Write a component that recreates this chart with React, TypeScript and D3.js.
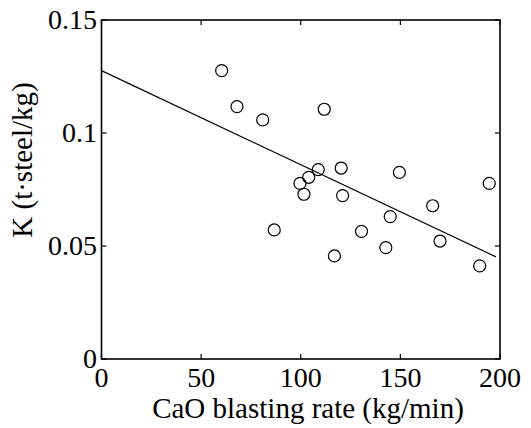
import React from "react";
import * as d3 from "d3";

const rates = [60.3, 68.0, 80.9, 111.8, 86.7, 99.6, 101.6, 104.0, 108.8, 120.3, 121.0, 116.9, 130.5, 142.7, 144.9, 149.5, 166.2, 169.9, 189.8, 194.6];
const kValues = [0.1276, 0.1117, 0.1058, 0.1105, 0.0571, 0.0777, 0.0729, 0.0804, 0.0838, 0.0845, 0.0723, 0.0456, 0.0565, 0.0493, 0.0630, 0.0826, 0.0678, 0.0522, 0.0412, 0.0777];
const fitX = [0, 198];
const fitY = [0.1276, 0.0452];
const xTicks = [0, 50, 100, 150, 200];
const yTicks = [0, 0.05, 0.1, 0.15];
const yTickLabels = ["0", "0.05", "0.1", "0.15"];

export default function App() {
  const W = 531, H = 428;
  const left = 101.5, right = 500, top = 20, bottom = 359;
  const x = d3.scaleLinear().domain([0, 200]).range([left, right]);
  const y = d3.scaleLinear().domain([0, 0.15]).range([bottom, top]);
  const line = d3.line<number>().x((_, i) => x(fitX[i])).y((d) => y(d));
  const font = "'Liberation Serif', 'Times New Roman', serif";
  const tl = 5;
  return (
    <svg width={W} height={H} style={{ position: "absolute", left: 0, top: 0, background: "#fff" }} fontFamily={font}>
      <rect x={left} y={top} width={right - left} height={bottom - top} fill="none" stroke="#000" strokeWidth={1.6} />
      {xTicks.map((t, i) => (
        <g key={"x" + i}>
          <line x1={x(t)} x2={x(t)} y1={bottom} y2={bottom - tl} stroke="#000" strokeWidth={1.2} />
          <line x1={x(t)} x2={x(t)} y1={top} y2={top + tl} stroke="#000" strokeWidth={1.2} />
          <text x={x(t)} y={387} fontSize={28} textAnchor="middle">{t}</text>
        </g>
      ))}
      {yTicks.map((t, i) => (
        <g key={"y" + i}>
          <line x1={left} x2={left + tl} y1={y(t)} y2={y(t)} stroke="#000" strokeWidth={1.2} />
          <line x1={right} x2={right - tl} y1={y(t)} y2={y(t)} stroke="#000" strokeWidth={1.2} />
          <text x={97} y={y(t) + 8.5} fontSize={28} textAnchor="end">{yTickLabels[i]}</text>
        </g>
      ))}
      <path d={line(fitY) || ""} fill="none" stroke="#000" strokeWidth={1.2} />
      {rates.map((r, i) => (
        <circle key={"p" + i} cx={x(r)} cy={y(kValues[i])} r={6} fill="none" stroke="#000" strokeWidth={1.2} />
      ))}
      <text x={308} y={418} fontSize={29} textAnchor="middle">CaO blasting rate (kg/min)</text>
      <text transform="translate(32,160) rotate(-90)" fontSize={29} textAnchor="middle">K (t·steel/kg)</text>
    </svg>
  );
}
